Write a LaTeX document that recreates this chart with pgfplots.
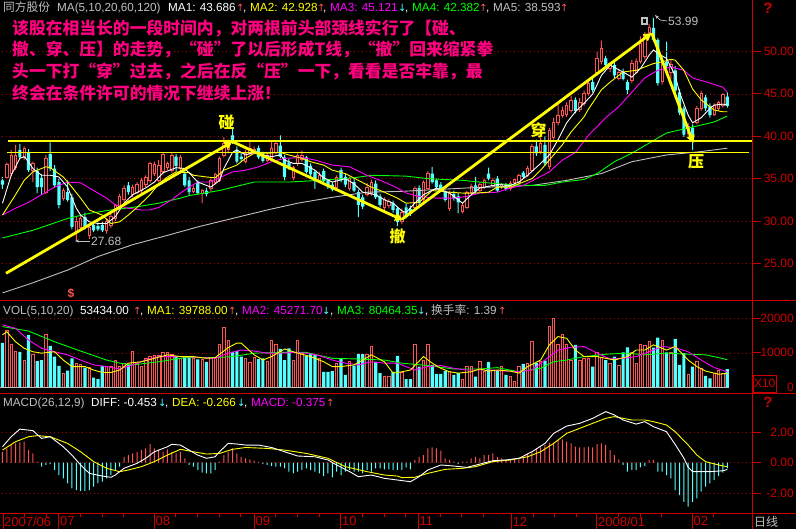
\documentclass[border=0pt]{standalone}
\usepackage{fontspec}
\setmainfont{Liberation Sans}
\newfontfamily\cjk{Noto Sans CJK SC}
\newfontfamily\dv{DejaVu Sans}
\usepackage{pgfplots}
\pgfplotsset{compat=1.18}
\usepackage{pgfplotstable}
\usetikzlibrary{arrows.meta}
\definecolor{upc}{RGB}{255,84,84}
\definecolor{dnc}{RGB}{84,255,255}
\definecolor{axc}{RGB}{205,0,0}
\definecolor{gridc}{RGB}{170,0,0}
\definecolor{pinkt}{RGB}{255,0,128}
\definecolor{ltg}{RGB}{192,192,192}
\definecolor{mag}{RGB}{255,0,255}
\definecolor{grn}{RGB}{0,255,0}
\definecolor{yel}{RGB}{255,255,0}

\pgfplotstableread{
i o h l c v m
0 34.8 35.2 33.8 34.3 12900 0.72
1 35.2 36.9 35.0 36.7 16400 0.94
2 35.6 38.4 35.3 37.8 12300 1.16
3 36.3 39.0 36.0 37.8 10500 1.27
4 38.4 39.1 37.3 37.5 10300 1.34
5 37.5 38.8 37.2 38.6 7900 1.38
6 38.1 38.5 35.8 36.0 15200 0.83
7 36.0 37.0 34.6 36.8 9400 0.61
8 35.9 36.3 33.3 34.0 7600 0.07
9 35.1 35.5 33.1 34.0 7900 -0.26
10 33.4 37.8 33.2 37.4 15200 -0.15
11 37.9 39.3 35.9 36.2 12000 -0.10
12 36.2 36.6 34.0 34.2 8900 -0.48
13 34.6 35.0 31.5 31.9 6200 -0.81
14 32.7 33.9 32.4 33.6 4100 -1.03
15 33.4 34.8 32.3 32.5 4800 -1.36
16 32.8 33.2 29.0 29.3 8400 -1.69
17 28.6 30.5 27.68 30.0 7000 -1.80
18 29.3 30.8 29.0 30.3 6500 -1.86
19 30.5 31.0 29.0 29.2 5700 -1.86
20 28.3 29.6 27.9 29.3 5700 -1.80
21 29.5 29.9 28.7 28.9 2800 -1.58
22 29.4 29.8 28.8 29.0 2400 -1.36
23 29.5 30.0 28.7 28.9 6200 -1.25
24 28.9 30.3 28.5 29.9 6000 -1.03
25 29.5 30.8 29.2 30.5 6200 -0.81
26 30.3 32.0 30.0 31.8 7900 -0.48
27 31.7 33.2 31.4 32.9 6000 -0.26
28 32.5 34.2 32.2 33.8 7000 0.39
29 34.2 34.6 33.1 33.4 6500 0.50
30 33.1 34.3 32.8 34.0 10300 0.61
31 33.4 34.6 33.2 34.3 7000 0.72
32 33.6 35.1 33.3 34.8 6000 0.83
33 34.3 35.4 34.0 35.1 8400 0.94
34 34.8 37.0 34.5 36.8 8900 1.23
35 35.6 37.0 35.3 36.7 9100 0.94
36 34.8 37.2 34.6 36.6 9100 0.83
37 35.8 38.1 35.5 37.9 10100 0.72
38 36.3 37.0 36.0 36.8 10100 0.88
39 36.0 38.1 35.7 37.8 9400 0.72
40 37.6 37.9 35.9 36.5 8900 0.61
41 36.2 37.8 35.8 37.5 8400 0.72
42 35.6 36.0 34.0 34.2 8900 0.29
43 34.8 35.2 33.0 33.4 8900 -0.15
44 33.5 34.2 33.3 33.9 8400 -0.26
45 34.5 34.8 33.1 33.3 8100 -0.48
46 33.3 33.8 32.1 33.6 8100 -0.66
47 33.6 33.9 32.9 33.2 7400 -0.70
48 33.8 35.0 33.5 34.8 8400 -0.70
49 34.6 35.7 34.3 35.5 8400 -0.48
50 34.8 37.6 34.6 37.4 12500 0.07
51 37.8 39.9 37.5 39.2 17400 0.50
52 38.4 39.6 38.0 39.3 13500 0.72
53 40.1 40.9 39.1 39.3 10300 0.94
54 38.4 38.8 36.8 37.0 10500 0.61
55 37.6 38.1 37.0 37.3 8900 0.39
56 37.0 38.4 36.8 38.0 8400 0.29
57 38.0 39.6 37.8 38.6 7100 0.22
58 38.1 38.8 37.9 38.5 8600 0.13
59 38.6 38.9 37.3 37.5 8200 0.05
60 38.0 38.2 36.9 37.1 8400 -0.09
61 37.1 38.1 36.9 37.8 7400 -0.15
62 37.4 39.4 37.2 38.6 13500 -0.22
63 38.1 39.4 37.9 39.2 12300 -0.26
64 38.9 40.1 37.4 37.6 11100 -0.26
65 37.5 37.8 34.8 35.2 7900 -0.37
66 36.9 37.3 36.0 36.3 11300 -0.59
67 35.2 36.5 34.8 36.3 7900 -0.70
68 36.8 38.0 36.5 37.8 13700 -0.59
69 37.3 38.3 37.0 37.8 9900 -0.48
70 37.5 37.7 35.6 35.8 9100 -0.37
71 36.5 36.8 35.2 35.5 9900 -0.48
72 35.8 36.0 33.8 34.8 9400 -0.59
73 34.8 35.8 34.5 35.4 8400 -0.70
74 35.9 36.2 34.5 34.7 4500 -0.88
75 34.8 35.0 33.8 34.0 4500 -0.70
76 34.3 34.6 33.5 33.7 4700 -0.96
77 34.0 35.4 33.8 35.1 7000 -0.59
78 36.0 36.3 34.6 34.8 8400 -0.81
79 35.2 35.6 34.0 34.3 3600 -0.59
80 33.8 35.2 33.6 35.0 7400 -0.48
81 34.6 35.0 33.4 33.6 6300 -0.59
82 33.4 33.7 30.5 31.9 9700 -0.59
83 32.8 33.1 31.4 31.7 9600 -0.70
84 33.1 34.5 32.9 34.0 9600 -0.48
85 33.3 34.9 33.0 34.6 11800 -0.59
86 34.4 34.8 32.6 32.8 7400 -0.37
87 32.9 33.2 31.6 31.9 4100 -0.37
88 31.6 32.8 31.3 32.5 3300 -0.44
89 31.8 32.6 31.5 32.3 3100 -0.44
90 32.1 32.4 31.0 31.3 4500 -0.48
91 31.5 31.7 29.4 29.9 9100 -0.48
92 29.9 31.5 29.6 31.0 4300 -0.48
93 31.6 32.0 30.3 30.5 2400 -0.31
94 31.4 31.8 30.6 30.8 2400 -0.44
95 31.6 34.1 31.4 33.9 12300 0.18
96 33.9 34.2 31.9 32.1 6000 0.39
97 32.5 34.8 32.3 34.5 7900 0.50
98 33.9 35.9 33.7 35.6 12300 0.94
99 35.6 36.4 34.4 34.6 6500 1.00
100 34.8 35.0 33.8 34.0 3900 0.94
101 34.3 34.6 33.4 33.6 3900 0.79
102 33.4 33.6 32.3 32.5 4700 0.29
103 31.5 33.6 31.2 33.3 4500 0.18
104 33.2 33.6 32.4 32.7 3600 0.07
105 32.9 33.3 30.9 32.2 4100 -0.09
106 31.1 32.1 30.9 31.9 2400 0.07
107 31.6 33.6 31.4 33.4 6000 0.07
108 33.4 34.4 33.2 34.1 6200 0.29
109 34.2 35.2 33.3 33.5 3100 0.39
110 33.6 34.6 33.4 34.3 7400 0.29
111 34.0 35.0 33.8 34.8 4700 0.50
112 35.6 36.3 34.8 35.0 7400 0.50
113 34.2 35.1 34.0 34.8 5000 0.61
114 35.0 35.3 33.4 33.6 4700 0.39
115 34.1 34.5 33.8 34.3 6200 0.29
116 34.3 34.5 33.6 33.8 3600 0.18
117 33.9 34.7 33.6 34.4 3100 0.18
118 34.5 35.1 34.3 34.9 1800 0.18
119 34.5 35.6 34.3 35.4 6200 0.22
120 35.7 35.9 35.0 35.2 6800 0.39
121 35.4 36.5 35.2 36.2 6800 0.57
122 36.0 39.1 35.8 38.8 13200 0.72
123 38.8 39.6 37.7 38.0 7000 0.94
124 38.2 39.8 37.9 39.2 7400 1.00
125 39.0 40.0 36.5 36.8 7700 1.16
126 36.4 41.0 36.1 40.7 17600 1.32
127 39.9 42.2 39.6 41.7 20000 1.32
128 41.6 43.8 41.3 42.5 12300 1.49
129 42.5 43.5 42.2 43.1 15200 1.54
130 42.6 44.0 42.3 43.6 12300 1.38
131 43.1 44.8 42.8 44.3 7700 1.27
132 44.3 44.6 42.7 43.0 12300 1.05
133 43.2 44.5 42.9 44.0 7900 1.00
134 43.9 45.4 43.6 45.1 8400 1.00
135 45.1 46.5 44.8 46.3 8400 1.05
136 46.4 46.9 45.2 45.5 6000 1.00
137 47.5 50.0 47.2 49.2 10100 1.23
138 48.8 51.3 48.5 50.4 8700 1.27
139 49.2 49.5 48.0 48.4 7900 1.16
140 48.0 48.8 47.6 48.6 7000 0.83
141 48.4 48.8 46.9 47.2 8900 0.50
142 46.9 47.9 46.6 47.6 6300 0.22
143 47.6 48.0 46.6 46.8 10100 -0.15
144 46.4 46.7 45.0 45.5 11600 -0.59
145 46.6 49.0 46.3 48.6 10100 -0.48
146 47.6 49.2 47.4 48.8 7000 -0.48
147 48.8 51.8 48.6 51.0 12300 -0.31
148 49.4 52.3 49.1 51.9 12000 -0.22
149 52.3 53.3 52.0 52.9 13400 0.18
150 52.8 53.99 51.2 51.4 11500 0.18
151 51.4 51.6 46.0 46.3 14400 -0.59
152 46.5 49.3 46.1 49.0 13700 -0.59
153 48.8 51.2 48.0 48.3 10100 -0.81
154 47.5 49.0 46.8 48.5 10100 -1.03
155 47.8 48.3 45.0 45.4 14000 -1.80
156 45.2 45.6 42.5 42.8 6500 -2.13
157 43.3 43.6 39.9 40.2 9900 -2.57
158 40.4 41.6 40.0 41.2 3600 -2.89
159 41.0 41.4 38.4 39.8 6000 -2.57
160 41.7 43.6 41.4 43.3 7600 -2.35
161 43.3 45.4 43.0 45.1 5500 -1.91
162 44.6 44.9 43.0 43.3 3300 -1.58
163 43.6 43.9 42.2 42.5 2600 -1.36
164 42.6 43.9 42.4 43.6 3900 -1.14
165 43.3 44.2 43.0 44.0 5000 -0.88
166 43.7 45.1 43.4 44.9 4100 -0.66
167 44.7 45.2 43.4 43.6 5300 -0.38
}\cdl

\pgfplotsset{
  panel/.style={scale only axis, width=752pt, xmin=-0.576, xmax=172.7,
    axis line style={draw=none}, xtick=\empty, ytick=\empty, anchor=south west, clip=true},
  pax/.style={panel, at={(0pt,229pt)}, height=300pt, ymin=20.666, ymax=56.108},
}
\newcommand\hf{\fontsize{11.7}{13}\selectfont}
\newcommand\hdr[4]{\node[anchor=base west, inner sep=0pt, text=#3] at (#1pt,#2pt) {\hf #4};}
\newcommand\upa[2]{\node[anchor=base west, inner sep=0pt, text=upc] at (#1pt,#2pt) {\dv\fontsize{10}{12}\selectfont ↑};}
\newcommand\dna[2]{\node[anchor=base west, inner sep=0pt, text=dnc] at (#1pt,#2pt) {\dv\fontsize{10}{12}\selectfont ↓};}
\newcommand\pf{\cjk\bfseries\fontsize{16.8}{18}\selectfont}
\newcommand\rl[2]{\node[anchor=east, inner sep=0pt, text=axc] at (794pt,#1pt) {\fontsize{12}{13}\selectfont #2};
  \draw[axc, line width=0.8pt] (752pt,#1pt) -- (761pt,#1pt);}

\begin{document}
\begin{tikzpicture}
\path[use as bounding box] (0pt,0pt) rectangle (796pt,529pt);
\fill[black] (0pt,0pt) rectangle (796pt,529pt);

% ================= PRICE: wicks =================
\begin{axis}[pax, ybar stacked, bar width=1pt]
\pgfplotsinvokeforeach{25,30,35,40,45,50}{\draw[gridc, dash pattern=on 1pt off 3pt] (axis cs:-1,#1) -- (axis cs:174,#1);}
\addplot[draw=none, fill=none] table[x=i, y=l] {\cdl};
\addplot[draw=none, fill=upc] table[x=i, y expr={(\thisrow{h}-\thisrow{l})*(\thisrow{c}>\thisrow{o})}] {\cdl};
\addplot[draw=none, fill=dnc] table[x=i, y expr={(\thisrow{h}-\thisrow{l})*(\thisrow{c}<\thisrow{o})}] {\cdl};
\end{axis}
% ================= PRICE: bodies =================
\begin{axis}[pax, ybar stacked, bar width=3.2pt]
\addplot[draw=none, fill=none] table[x=i, y expr={min(\thisrow{o},\thisrow{c})}] {\cdl};
\addplot[draw=upc, fill=black, line width=0.8pt, bar width=2.4pt] table[x=i, y expr={(\thisrow{c}-\thisrow{o})*(\thisrow{c}>\thisrow{o})}] {\cdl};
\addplot[draw=none, fill=dnc] table[x=i, y expr={(\thisrow{o}-\thisrow{c})*(\thisrow{c}<\thisrow{o})}] {\cdl};
\end{axis}
% ================= PRICE: MAs and notes =================
\begin{axis}[pax]
\addplot[ltg, line width=0.9pt] coordinates {(0,21.5) (7,22.7) (15,24.2) (22,25.8) (30,27.2) (38,28.3) (45,29.3) (53,30.3) (61,31.3) (68,32.1) (76,32.8) (84,33.4) (92,33.5) (107,33.9) (122,34.2) (130,34.8) (138,35.6) (145,37.0) (153,37.8) (161,38.2) (167,38.6)};
\addplot[grn, line width=0.9pt] coordinates {(0,28.0) (7,28.9) (15,30.3) (20,30.9) (25,31.3) (30,31.6) (36,32.1) (41,32.7) (43,33.0) (50,33.6) (58,34.6) (66,34.6) (73,34.8) (81,35.1) (85,35.4) (93,35.3) (98,35.0) (106,34.8) (114,34.4) (120,34.2) (125,34.2) (129,34.6) (134,34.9) (137,35.6) (141,37.0) (145,38.0) (153,40.4) (159,41.1) (164,41.7) (167,42.4)};
\addplot[mag, line width=0.9pt] coordinates {(0,30.7) (3,31.5) (6,32.2) (9,33.1) (12,34.0) (15,34.6) (18,34.5) (21,33.6) (24,32.7) (26,31.9) (29,31.5) (32,31.3) (34,31.3) (36,31.6) (39,32.5) (41,33.3) (43,34.0) (45,34.6) (48,34.6) (50,35.1) (53,35.8) (56,36.0) (59,36.4) (62,37.0) (65,37.4) (69,37.5) (72,37.2) (76,36.6) (80,36.4) (84,35.4) (88,34.6) (91,33.9) (93,33.3) (96,32.9) (100,32.7) (104,32.7) (107,32.9) (110,33.3) (114,33.4) (117,33.9) (120,34.2) (123,35.0) (126,35.8) (129,37.2) (132,38.1) (135,40.1) (139,42.2) (142,43.5) (145,45.2) (148,46.9) (151,47.8) (154,48.2) (157,47.8) (159,46.9) (163,46.3) (166,45.8) (167,45.2)};
\addplot[yel, line width=0.9pt] coordinates {(0,30.7) (3,33.1) (5,34.8) (7,35.8) (10,36.4) (11,36.3) (14,35.2) (16,34.0) (18,32.7) (20,31.3) (23,30.7) (25,29.7) (27,29.9) (29,30.7) (31,31.6) (34,33.1) (36,34.4) (38,35.2) (40,35.8) (43,35.7) (44,35.4) (47,35.2) (49,35.1) (51,36.0) (54,36.6) (56,37.4) (58,38.0) (61,38.0) (64,38.1) (66,37.8) (69,37.4) (71,37.0) (74,36.6) (76,36.0) (79,35.6) (82,34.8) (85,34.0) (88,33.4) (91,32.7) (93,32.1) (96,32.2) (99,33.6) (103,33.4) (106,33.3) (109,33.3) (112,33.4) (114,34.0) (117,34.0) (119,34.4) (122,35.0) (124,36.0) (126,37.2) (129,39.0) (131,40.5) (134,42.3) (135,43.2) (138,45.5) (140,46.4) (143,47.6) (146,47.8) (148,48.2) (150,48.6) (152,48.8) (154,49.1) (155,49.0) (157,47.8) (159,45.6) (161,44.3) (162,43.9) (164,43.1) (166,42.9) (167,42.9)};
\addplot[white, line width=0.9pt] coordinates {(0,32.1) (2,35.4) (4,37.4) (5,37.6) (6,37.0) (7,36.2) (9,35.4) (11,35.4) (13,35.2) (15,34.0) (17,31.5) (18,30.7) (20,29.9) (22,29.7) (24,29.7) (26,30.5) (28,32.1) (30,33.1) (33,33.9) (35,34.6) (37,35.7) (40,36.3) (42,36.2) (43,35.7) (45,34.6) (48,34.0) (50,34.8) (51,36.2) (53,38.1) (54,38.4) (56,37.8) (58,38.1) (60,37.8) (62,37.6) (64,37.8) (65,37.2) (67,36.8) (69,36.8) (72,36.0) (74,35.1) (76,34.6) (79,35.0) (81,34.4) (83,33.4) (86,33.1) (88,32.5) (90,32.1) (92,31.2) (93,31.0) (95,32.1) (97,33.1) (100,33.9) (103,33.3) (106,32.1) (108,33.1) (110,33.9) (114,34.3) (117,34.2) (119,34.6) (121,35.4) (124,36.8) (126,37.8) (128,39.6) (130,41.6) (132,42.9) (134,43.9) (136,45.0) (138,47.2) (140,48.4) (143,47.6) (145,47.0) (147,48.0) (149,49.6) (150,50.2) (151,49.8) (153,49.2) (155,47.2) (156,45.2) (158,42.5) (159,41.6) (161,42.2) (163,43.3) (164,43.7) (166,43.8) (167,43.7)};
\draw[yel, line width=1.2pt] (axis cs:1.27,39.45) -- (axis cs:173,39.45);
\draw[yel, line width=1.2pt] (axis cs:1.04,38.11) -- (axis cs:172.0,38.11);
\draw[yel, line width=2.8pt, -{Triangle[length=8pt,width=8pt]}] (axis cs:0.81,23.82) -- (axis cs:53.0,39.37);
\draw[yel, line width=2.8pt, -{Triangle[length=8pt,width=8pt]}] (axis cs:53.0,39.37) -- (axis cs:92.3,30.09);
\draw[yel, line width=2.8pt, -{Triangle[length=8pt,width=8pt]}] (axis cs:92.05,30.21) -- (axis cs:149.6,52.21);
\draw[yel, line width=2.8pt, -{Triangle[length=8pt,width=8pt]}] (axis cs:149.6,52.21) -- (axis cs:159.2,39.18);
\end{axis}

% ================= VOLUME =================
\begin{axis}[panel, at={(0pt,135pt)}, height=93pt, ymin=-1942, ymax=25014]
\draw[gridc, dash pattern=on 1pt off 3pt] (axis cs:-1,10000) -- (axis cs:174,10000);
\draw[gridc, dash pattern=on 1pt off 3pt] (axis cs:-1,20000) -- (axis cs:174,20000);
\addplot[ybar, bar shift=0pt, bar width=2.4pt, draw=upc, fill=black, line width=0.8pt] table[x=i, y expr={\thisrow{v}*(\thisrow{c}>\thisrow{o})}] {\cdl};
\addplot[ybar, bar shift=0pt, bar width=3.2pt, draw=none, fill=dnc] table[x=i, y expr={\thisrow{v}*(\thisrow{c}<\thisrow{o})}] {\cdl};
\draw[ltg, line width=0.6pt] (axis cs:-0.6,0) -- (axis cs:167.5,0);
\addplot[grn, line width=0.9pt] coordinates {(0,17600) (6,16300) (12,13200) (18,10500) (24,7900) (27,7000) (30,6500) (36,7400) (42,8600) (49,8600) (53,8900) (58,9900) (64,10100) (70,10100) (76,8400) (82,8200) (88,7900) (92,7000) (98,6300) (104,5300) (110,5300) (114,5700) (119,4500) (124,5500) (127,7400) (130,7900) (134,8900) (139,9600) (144,9900) (148,9400) (153,9900) (158,9600) (162,9400) (165,8600) (167,8000)};
\addplot[mag, line width=0.9pt] coordinates {(0,18100) (3,17100) (6,13700) (9,11300) (12,10300) (15,9400) (18,7900) (21,6500) (24,6000) (27,5300) (30,6500) (33,7900) (36,8900) (39,8900) (42,8900) (46,8600) (49,8400) (52,9900) (55,10800) (58,10500) (61,9900) (64,9900) (67,10100) (70,9900) (73,9200) (76,7900) (79,7000) (82,6500) (85,7400) (88,7000) (91,7000) (95,5000) (98,6000) (101,6300) (104,5500) (107,5000) (110,5000) (113,5000) (116,4700) (119,4500) (122,5000) (125,7900) (128,10800) (131,11600) (134,11800) (137,9900) (140,8200) (143,8400) (146,8900) (149,10300) (152,11800) (155,11500) (158,10300) (161,7900) (164,5700) (167,4500)};
\addplot[yel, line width=0.9pt] coordinates {(0,15200) (1,16100) (3,13200) (5,11300) (7,10300) (9,9900) (12,10300) (14,7900) (16,6000) (19,6000) (21,5000) (23,4300) (25,4300) (27,5000) (29,7000) (32,7400) (35,8400) (38,9400) (41,8900) (44,8900) (47,8400) (49,8600) (52,11500) (54,12800) (55,12800) (58,9400) (60,7900) (62,8900) (65,11100) (68,9900) (71,8900) (74,7400) (76,6000) (78,6000) (81,6500) (83,7900) (85,9400) (88,7400) (90,4100) (92,4500) (94,5000) (97,8900) (99,7000) (101,5500) (103,4500) (105,4100) (108,4500) (110,5300) (112,4700) (114,5000) (117,4700) (119,4100) (121,6000) (124,7900) (126,12300) (128,14700) (130,14200) (132,10800) (134,8900) (137,8900) (139,8400) (141,7900) (144,8900) (146,10800) (148,10800) (150,12300) (153,10800) (155,11800) (158,7900) (160,6000) (162,4700) (165,3800) (167,4000)};
\end{axis}

% ================= MACD =================
\begin{axis}[panel, at={(0pt,15.5pt)}, height=119.5pt, ymin=-3.342, ymax=4.52]
\pgfplotsinvokeforeach{-2,0,2}{\draw[gridc, dash pattern=on 1pt off 3pt] (axis cs:-1,#1) -- (axis cs:174,#1);}
\addplot[ybar, bar shift=0pt, bar width=1pt, draw=none, fill=upc] table[x=i, y expr={max(\thisrow{m},0)}] {\cdl};
\addplot[ybar, bar shift=0pt, bar width=1pt, draw=none, fill=dnc] table[x=i, y expr={min(\thisrow{m},0)}] {\cdl};
\addplot[yel, line width=0.9pt] coordinates {(0,0.83) (3,1.38) (6,1.71) (8,1.78) (11,1.71) (15,1.27) (18,0.72) (21,0.07) (24,-0.37) (27,-0.59) (29,-0.48) (32,-0.26) (35,0.07) (38,0.50) (41,0.88) (44,0.72) (47,0.57) (50,0.61) (53,0.88) (56,1.0) (61,0.94) (65,0.83) (70,0.61) (75,0.29) (79,-0.26) (84,-0.59) (88,-0.81) (91,-0.88) (92,-0.98) (95,-0.96) (98,-0.70) (102,-0.44) (106,-0.37) (109,-0.26) (113,0.07) (117,0.18) (121,0.39) (124,0.72) (127,1.27) (130,1.93) (133,2.26) (136,2.59) (139,2.92) (141,3.03) (145,2.81) (148,2.81) (150,2.70) (153,2.48) (155,2.04) (158,1.16) (160,0.50) (162,0.07) (165,-0.15) (167,-0.27)};
\addplot[white, line width=0.9pt] coordinates {(0,1.05) (2,1.71) (4,2.21) (7,2.11) (9,1.60) (11,1.71) (14,1.05) (16,0.50) (18,-0.15) (20,-0.70) (23,-0.88) (25,-0.96) (26,-0.81) (28,-0.37) (31,-0.04) (33,0.29) (35,0.72) (38,1.05) (39,1.21) (41,1.16) (43,0.83) (45,0.50) (47,0.29) (49,0.39) (50,0.72) (52,1.27) (54,1.23) (56,1.16) (59,1.16) (62,1.0) (65,0.72) (68,0.44) (72,0.39) (75,0.18) (77,-0.15) (80,-0.59) (82,-0.92) (85,-0.81) (88,-1.03) (91,-1.14) (94,-1.25) (96,-0.92) (98,-0.48) (101,-0.15) (104,-0.22) (107,-0.31) (110,-0.09) (113,0.13) (116,0.18) (119,0.29) (122,0.72) (125,1.27) (127,1.93) (130,2.41) (133,2.59) (136,2.92) (139,3.36) (141,3.14) (143,2.81) (146,2.54) (148,2.70) (150,2.37) (153,2.04) (155,1.2) (157,0.3) (158,-0.3) (159,-0.59) (161,-0.59) (163,-0.59) (166,-0.53) (167,-0.45)};
\end{axis}

% ================= FRAME =================
\draw[axc, line width=1pt] (0pt,228pt) -- (796pt,228pt);
\draw[axc, line width=1pt] (0pt,135pt) -- (796pt,135pt);
\draw[axc, line width=1pt] (0pt,15.5pt) -- (796pt,15.5pt);
\draw[axc, line width=1pt] (752pt,0pt) -- (752pt,529pt);

\rl{477.3}{50.00}\rl{435.7}{45.00}\rl{392.3}{40.00}\rl{350.3}{35.00}\rl{307.7}{30.00}\rl{265.7}{25.00}
\rl{210.7}{20000}\rl{176.2}{10000}
\node[anchor=east, inner sep=0pt, text=axc] at (794pt,141.7pt) {\fontsize{12}{13}\selectfont 0};
\draw[axc, line width=0.8pt] (753.5pt,137pt) rectangle (776pt,154pt);
\node[text=axc, inner sep=0pt] at (764.7pt,145.5pt) {\fontsize{12}{13}\selectfont X10};
\rl{96.7}{2.00}\rl{66.3}{0.00}\rl{35.9}{-2.00}
\node[text=axc, inner sep=0pt] at (768pt,521pt) {\bfseries\fontsize{15}{16}\selectfont ?};
\node[text=axc, inner sep=0pt] at (768pt,127pt) {\bfseries\fontsize{15}{16}\selectfont ?};
\node[anchor=west, inner sep=0pt, text=ltg] at (754pt,7.5pt) {\cjk\fontsize{12}{13}\selectfont 日线};

\foreach \x in {3,58.7,154,254,340.7,418.3,511,596.7,692.3} {\draw[axc, line width=0.8pt] (\x pt,0pt) -- (\x pt,15.5pt);}
\foreach \x in {24.6,46.3,80.4,102.1,123.8,175.7,197.4,219.1,240.8,275.5,297.2,318.9,362.3,384,405.7,440,461.7,483.4,533,554.6,576.3,618.4,640.1,661.8,713.8} {\draw[axc, line width=0.8pt] (\x pt,11.5pt) -- (\x pt,15.5pt);}
\foreach \x/\t in {4/{2007/06},60/07,155.5/08,255.5/09,342/10,419.5/11,512.5/12,598/{2008/01},693.5/02} {\node[anchor=west, inner sep=0pt, text=axc] at (\x pt,7.5pt) {\fontsize{13}{14}\selectfont \t};}

\hdr{3}{517.5}{ltg}{\cjk 同方股份}
\hdr{57}{517.5}{ltg}{MA(5,10,20,60,120)}
\hdr{168}{517.5}{white}{MA1: 43.686}\upa{236}{517.5}
\hdr{243}{517.5}{white}{,}\hdr{250}{517.5}{yel}{MA2: 42.928}\upa{317}{517.5}
\hdr{323}{517.5}{white}{,}\hdr{330}{517.5}{mag}{MA3: 45.121}\dna{398}{517.5}
\hdr{405}{517.5}{white}{,}\hdr{412}{517.5}{grn}{MA4: 42.382}\upa{479}{517.5}
\hdr{486}{517.5}{white}{,}\hdr{493}{517.5}{ltg}{MA5: 38.593}\upa{560}{517.5}

\hdr{3}{214.8}{ltg}{VOL(5,10,20)}
\hdr{80}{214.8}{white}{53434.00}\upa{133}{214.8}
\hdr{140}{214.8}{white}{,}\hdr{147}{214.8}{yel}{MA1: 39788.00}\upa{228}{214.8}
\hdr{235}{214.8}{white}{,}\hdr{242}{214.8}{mag}{MA2: 45271.70}\dna{322}{214.8}
\hdr{330}{214.8}{white}{,}\hdr{337}{214.8}{grn}{MA3: 80464.35}\dna{417}{214.8}
\hdr{425}{214.8}{white}{,}\hdr{431}{214.8}{ltg}{{\cjk 换手率}: 1.39}\upa{498}{214.8}

\hdr{3}{122.3}{ltg}{MACD(26,12,9)}
\hdr{91}{122.3}{white}{DIFF: -0.453}\dna{158}{122.3}
\hdr{165}{122.3}{white}{,}\hdr{172}{122.3}{yel}{DEA: -0.266}\dna{237}{122.3}
\hdr{244}{122.3}{white}{,}\hdr{251}{122.3}{mag}{MACD: -0.375}\upa{326}{122.3}

\node[anchor=west, inner sep=0pt, text=pinkt] at (12pt,501pt) {\pf 该股在相当长的一段时间内，对两根前头部颈线实行了【碰、};
\node[anchor=west, inner sep=0pt, text=pinkt] at (12pt,479.5pt) {\pf 撤、穿、压】的走势，“碰”了以后形成T线，“撤”回来缩紧拳};
\node[anchor=west, inner sep=0pt, text=pinkt] at (12pt,457.5pt) {\pf 头一下打“穿”过去，之后在反“压”一下，看看是否牢靠，最};
\node[anchor=west, inner sep=0pt, text=pinkt] at (12pt,436pt) {\pf 终会在条件许可的情况下继续上涨！};

\node[text=yel, inner sep=0pt] at (226.5pt,406.5pt) {\cjk\bfseries\fontsize{16}{16}\selectfont 碰};
\node[text=yel, inner sep=0pt] at (538.5pt,398.5pt) {\cjk\bfseries\fontsize{16}{16}\selectfont 穿};
\node[text=yel, inner sep=0pt] at (397.5pt,293pt) {\cjk\bfseries\fontsize{16}{16}\selectfont 撤};
\node[text=yel, inner sep=0pt] at (696pt,367.5pt) {\cjk\bfseries\fontsize{16}{16}\selectfont 压};

\draw[ltg, line width=0.7pt, -{Stealth[length=4pt]}] (90pt,288pt) -- (75pt,288pt);
\node[anchor=west, inner sep=0pt, text=ltg] at (91pt,288pt) {\fontsize{12}{13}\selectfont 27.68};
\draw[ltg, line width=0.7pt, {Stealth[length=4pt]}-] (655pt,514pt) -- (660pt,509pt) -- (667pt,508pt);
\node[anchor=west, inner sep=0pt, text=ltg] at (668pt,508pt) {\fontsize{12}{13}\selectfont 53.99};
\fill[ltg] (640.5pt,504pt) rectangle (648pt,511.5pt);
\fill[black] (642.5pt,506pt) rectangle (646pt,509.5pt);
\node[text=upc, inner sep=0pt] at (71pt,236pt) {\bfseries\fontsize{12}{13}\selectfont \$};
\end{tikzpicture}
\end{document}
